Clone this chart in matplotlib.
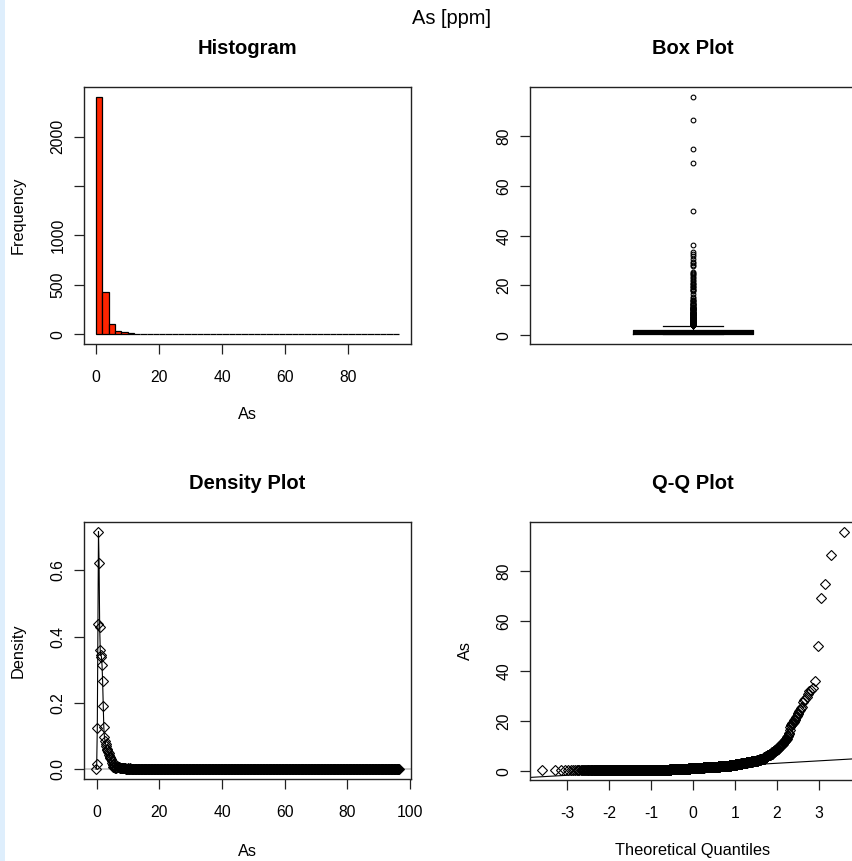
import numpy as np
import matplotlib
matplotlib.use("Agg")
import matplotlib.pyplot as plt
from matplotlib.patches import Rectangle
from statistics import NormalDist

# ---------------- data: frequency table of As [ppm] ----------------
as_values = [0.3, 0.4, 0.5, 0.6, 0.7, 0.8, 0.9, 1.0, 1.1, 1.2, 1.3, 1.4, 1.5, 1.6, 1.7, 1.8, 1.9, 2.0,
             2.2, 2.4, 2.6, 2.8, 3.0, 3.2, 3.4, 3.6, 3.8, 4.0,
             4.25, 4.5, 4.75, 5.0, 5.5, 6.0,
             6.5, 7.0, 7.5, 8.0,
             8.5, 9.0, 9.5, 10.0,
             10.5, 11.0, 11.5, 12.0,
             12.4, 13.0, 13.6, 14.2, 14.8, 15.4, 16.6, 17.8, 18.3, 18.7, 19.2, 19.8, 20.4, 21.0,
             21.6, 22.2, 22.8, 23.4, 24.0, 24.6, 25.1, 25.6,
             27.7, 28.3, 28.9, 29.5, 30.7, 31.9, 32.5, 33.3,
             36.1, 50.1, 69.2, 74.9, 86.4, 95.9]
as_counts = [60, 160, 380, 300, 180, 120, 100, 120, 100, 110, 100, 100, 120, 100, 90, 90, 80, 94,
             70, 60, 52, 46, 42, 38, 34, 32, 30, 27,
             28, 24, 18, 13, 13, 8,
             14, 11, 7, 6,
             7, 6, 4, 4,
             4, 4, 3, 3,
             2, 2, 2, 2, 1, 1, 1, 1, 2, 1, 2, 1, 2, 1,
             1, 1, 1, 1, 1, 1, 1, 1,
             1, 1, 1, 1, 1, 1, 1, 1,
             1, 1, 1, 1, 1, 1]

suptitle = "As [ppm]"
panel_titles = ["Histogram", "Box Plot", "Density Plot", "Q-Q Plot"]
hist_xticks = [0, 20, 40, 60, 80]
hist_yticks = [0, 500, 1000, 1500, 2000]
hist_yticklabels = ["0", "500", "1000", "", "2000"]
box_yticks = [0, 20, 40, 60, 80]
dens_xticks = [0, 20, 40, 60, 80, 100]
dens_yticks = [0.0, 0.2, 0.4, 0.6]
qq_xticks = [-3, -2, -1, 0, 1, 2, 3]
qq_yticks = [0, 20, 40, 60, 80]

bin_width = 2.0

# ---------------- style ----------------
plt.rcParams["font.family"] = ["Liberation Sans", "DejaVu Sans"]
plt.rcParams["axes.unicode_minus"] = False
TICK_FS = 11.3
LAB_FS = 11.8
TITLE_FS = 14.5
RED = "#ff2400"
DIAMOND_MS = 4.7

W, H = 852, 861
fig = plt.figure(figsize=(W / 100, H / 100), dpi=100)
fig.patch.set_facecolor("white")
fig.patches.append(Rectangle((0, 0), 5 / W, 1, transform=fig.transFigure,
                             facecolor="#deeefc", edgecolor="none", zorder=0))


def pos(l, t, r, b):
    return [l / W, 1 - b / H, (r - l) / W, (b - t) / H]


ax_h = fig.add_axes(pos(84, 87, 411, 344))
ax_b = fig.add_axes(pos(530, 87, 856, 344))
ax_d = fig.add_axes(pos(84, 522, 411, 779))
ax_q = fig.add_axes(pos(530, 522, 856, 780))


def style(ax):
    for s in ax.spines.values():
        s.set_linewidth(1.0)
        s.set_color("#222222")
    ax.tick_params(direction="out", length=7.2, width=0.9, color="#222222",
                   labelsize=TICK_FS)
    ax.tick_params(axis="x", pad=11.3)
    ax.tick_params(axis="y", pad=6)


def rot_y(ax):
    for lab in ax.get_yticklabels():
        lab.set_rotation(90)
        lab.set_va("center")
        lab.set_ha("right")


def pad_range(lo, hi, f=0.04):
    d = (hi - lo) * f
    return lo - d, hi + d


sample = np.sort(np.repeat(np.array(as_values, float), as_counts))
n = sample.size

# ---------------- Histogram ----------------
edges = np.arange(0, sample.max() + bin_width, bin_width)
idx = np.clip(np.searchsorted(edges, sample, side="left") - 1, 0, len(edges) - 2)
counts = np.bincount(idx, minlength=len(edges) - 1)
ax_h.bar(edges[:-1], counts, width=bin_width, align="edge", facecolor=RED,
         edgecolor="black", linewidth=0.9)
ax_h.set_xlim(*pad_range(edges[0], edges[-1]))
ax_h.set_ylim(*pad_range(0, counts.max()))
ax_h.set_xticks(hist_xticks)
ax_h.set_yticks(hist_yticks)
ax_h.set_yticklabels(hist_yticklabels)
style(ax_h)
rot_y(ax_h)

# ---------------- Box plot ----------------
ax_b.boxplot(sample, positions=[1], widths=0.37, whis=1.5,
             medianprops=dict(color="black", linewidth=2.3),
             boxprops=dict(color="black", linewidth=0.9),
             whiskerprops=dict(color="black", linewidth=0.9, linestyle="--"),
             capprops=dict(color="black", linewidth=0.9),
             flierprops=dict(marker="o", markersize=3.4, markerfacecolor="none",
                             markeredgecolor="black", markeredgewidth=0.8))
ax_b.set_xlim(0.5, 1.5)
ax_b.set_ylim(*pad_range(sample.min(), sample.max()))
ax_b.set_xticks([])
ax_b.set_yticks(box_yticks)
style(ax_b)
rot_y(ax_b)

# ---------------- Density plot ----------------
q1, q3 = np.quantile(sample, [0.25, 0.75])
bw = 0.9 * min(sample.std(ddof=1), (q3 - q1) / 1.34) * n ** -0.2
gx = np.linspace(sample.min() - 3 * bw, sample.max() + 3 * bw, 512)
vals = np.array(as_values, float)
cnts = np.array(as_counts, float)
gy = (cnts[None, :] * np.exp(-0.5 * ((gx[:, None] - vals[None, :]) / bw) ** 2)).sum(1) / (n * bw * np.sqrt(2 * np.pi))
ax_d.axhline(0, color="#c0c0c0", linewidth=1.2, zorder=1)
ax_d.plot(gx, gy, color="black", linewidth=0.8, marker="D", markersize=DIAMOND_MS,
          markerfacecolor="none", markeredgecolor="black", markeredgewidth=0.8, zorder=2)
ax_d.set_xlim(*pad_range(gx.min(), gx.max()))
ax_d.set_ylim(*pad_range(0, gy.max()))
ax_d.set_xticks(dens_xticks)
ax_d.set_yticks(dens_yticks)
ax_d.set_yticklabels([f"{v:.1f}" for v in dens_yticks])
style(ax_d)
rot_y(ax_d)

# ---------------- Q-Q plot ----------------
nd = NormalDist()
z = np.array([nd.inv_cdf((i - 0.5) / n) for i in range(1, n + 1)])
ax_q.plot(z, sample, linestyle="none", marker="D", markersize=DIAMOND_MS, markerfacecolor="none",
          markeredgecolor="black", markeredgewidth=0.8)
zq1, zq3 = nd.inv_cdf(0.25), nd.inv_cdf(0.75)
ax_q.axline((zq1, q1), (zq3, q3), color="black", linewidth=0.8)
ax_q.set_xlim(*pad_range(z.min(), z.max()))
ax_q.set_ylim(*pad_range(sample.min(), sample.max()))
ax_q.set_xticks(qq_xticks)
ax_q.set_yticks(qq_yticks)
style(ax_q)
rot_y(ax_q)

# ---------------- titles and labels ----------------
for ax, t in zip([ax_h, ax_b, ax_d, ax_q], panel_titles):
    ax.text(0.5, 1.148, t, transform=ax.transAxes, ha="center", va="center",
            fontsize=TITLE_FS, fontweight="bold")

ax_h.set_xlabel("As", fontsize=LAB_FS, va="center")
ax_h.xaxis.set_label_coords(0.5, -0.276)
ax_h.set_ylabel("Frequency", fontsize=LAB_FS, va="center")
ax_h.yaxis.set_label_coords(-0.202, 0.5)

ax_d.set_xlabel("As", fontsize=LAB_FS, va="center")
ax_d.xaxis.set_label_coords(0.5, -0.283)
ax_d.set_ylabel("Density", fontsize=LAB_FS, va="center")
ax_d.yaxis.set_label_coords(-0.202, 0.5)

ax_q.set_xlabel("Theoretical Quantiles", fontsize=LAB_FS, va="center")
ax_q.xaxis.set_label_coords(0.5, -0.274)
ax_q.set_ylabel("As", fontsize=LAB_FS, va="center")
ax_q.yaxis.set_label_coords(-0.199, 0.5)

fig.text(451 / W, 1 - 18 / H, suptitle, ha="center", va="center", fontsize=14.4)

fig.savefig("out.png", dpi=100)
